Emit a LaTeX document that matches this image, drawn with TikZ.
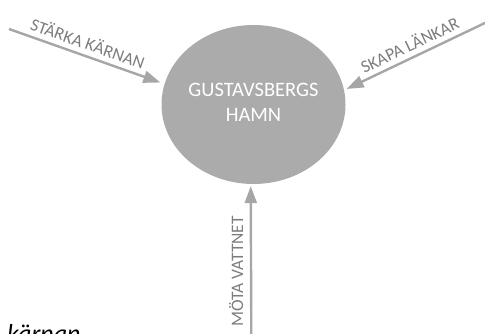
\documentclass[tikz,border=0pt]{standalone}
\usepackage{fontspec}
\setmainfont{Carlito}
\usetikzlibrary{shapes.geometric,arrows.meta}
\definecolor{hubfill}{RGB}{171,171,171}
\definecolor{arrowcol}{RGB}{166,166,166}
\definecolor{labelcol}{RGB}{125,125,125}
\begin{document}
\begin{tikzpicture}[x=1pt,y=-1pt,
  hubstyle/.style={ellipse, fill=hubfill, draw=none, minimum width=177pt, minimum height=159pt, inner sep=0pt, text=white, font=\fontsize{20.5}{25}\selectfont},
  flow/.style={draw=arrowcol, line width=2.4pt, -{Triangle[length=17pt,width=12pt]}},
  labeltext/.style={inner sep=0pt, text=labelcol, font=\fontsize{17.5}{20}\selectfont},
  flowlabel/.style={labeltext, sloped, above=5pt},
  vlabel/.style={labeltext, rotate=90, anchor=south}]
\useasboundingbox (0,0) rectangle (485,334);
\node[hubstyle] (hub) at (253.5,104.5) {\raisebox{5.3pt}{\begin{tabular}{@{}c@{}}GUSTAVSBERGS\\HAMN\end{tabular}}};
\coordinate (s1) at (9,29);
\coordinate (s2) at (486,22.5);
\coordinate (s3) at (251.3,336);
\draw[flow, shorten >=4.3pt] (s1) -- node[flowlabel, pos=0.48] {STÄRKA KÄRNAN} (hub.167.5);
\draw[flow, shorten >=2.7pt] (s2) -- node[flowlabel, pos=0.5] {SKAPA LÄNKAR} (hub.9.2);
\draw[flow, shorten >=2pt] (s3) -- (hub.268.6);
\node[vlabel] (l3) at (243.5,271.5) {MÖTA VATTNET};
\node[anchor=base west, inner sep=0pt, font=\fontsize{26}{30}\selectfont\itshape] (karnan) at (7,342) {kärnan};
\end{tikzpicture}
\end{document}
